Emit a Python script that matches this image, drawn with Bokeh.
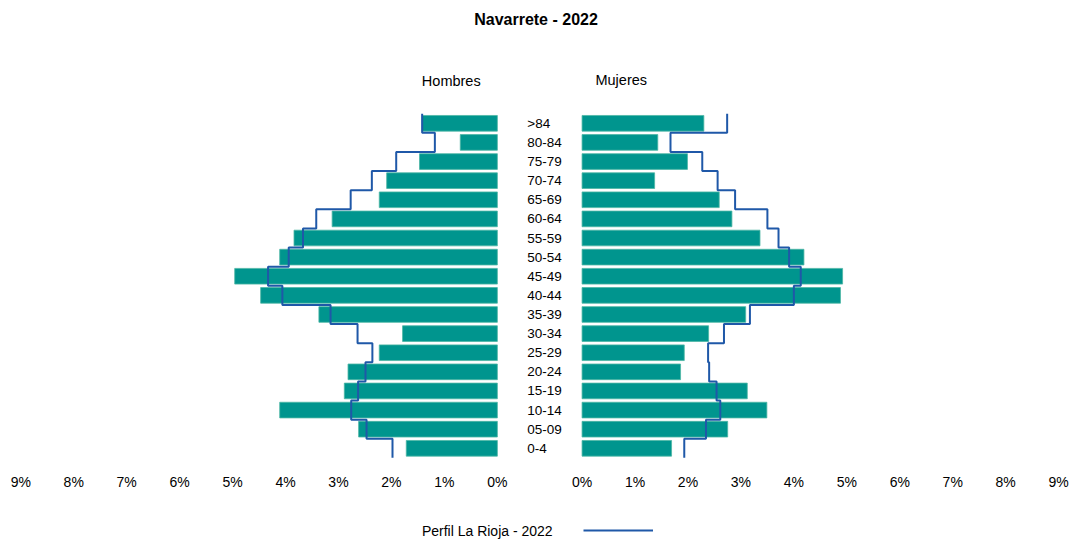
from bokeh.plotting import figure
from bokeh.models import (ColumnDataSource, FixedTicker, CustomJSTickFormatter, Label,
                          Legend, LegendItem, Range1d)
from bokeh.core.properties import value
from bokeh.embed import file_html
from bokeh.resources import INLINE

# ---------------- data ----------------
ages = ["0-4", "05-09", "10-14", "15-19", "20-24", "25-29", "30-34", "35-39", "40-44",
        "45-49", "50-54", "55-59", "60-64", "65-69", "70-74", "75-79", "80-84", ">84"]
hombres = [1.72, 2.62, 4.11, 2.89, 2.82, 2.23, 1.79, 3.37, 4.47,
           4.96, 4.11, 3.84, 3.12, 2.23, 2.09, 1.47, 0.70, 1.42]
mujeres = [1.69, 2.75, 3.49, 3.12, 1.86, 1.93, 2.39, 3.09, 4.88,
           4.92, 4.19, 3.36, 2.83, 2.59, 1.37, 1.99, 1.43, 2.30]
rioja_h = [1.98, 2.47, 2.76, 2.63, 2.49, 2.36, 2.64, 3.15, 4.06,
           4.33, 3.94, 3.67, 3.42, 2.77, 2.37, 1.91, 1.18, 1.42]
rioja_m = [1.93, 2.34, 2.61, 2.54, 2.40, 2.38, 2.68, 3.17, 4.00,
           4.13, 3.91, 3.71, 3.50, 2.89, 2.56, 2.27, 1.67, 2.74]
tick_pcts = [0, 1, 2, 3, 4, 5, 6, 7, 8, 9]
title_text = "Navarrete - 2022"
legend_text = "Perfil La Rioja - 2022"

# ---------------- layout constants ----------------
G = 0.8          # half gap between the two pyramids (in % units)
FONT = "Liberation Sans"
BAR = "#00958e"
LINE = "#1f58a8"

idx = list(range(len(ages)))
src = ColumnDataSource(dict(
    y=idx, age=ages,
    hl=[-(G + v) for v in hombres], hr=[-G] * len(idx),
    ml=[G] * len(idx), mr=[G + v for v in mujeres],
))

def step_path(vals, sign):
    xs, ys = [], []
    for i, v in enumerate(vals):
        x = sign * (G + v)
        xs += [x, x]
        ys += [i - 0.5, i + 0.5]
    return xs, ys

p = figure(width=1071, height=539, output_backend="svg", toolbar_location=None,
           x_range=Range1d(-10.183, 10.043), y_range=Range1d(-4.77, 21.75),
           y_axis_location=None, min_border_left=0, min_border_right=0,
           min_border_top=32, min_border_bottom=0)
p.outline_line_color = None
p.grid.visible = False
p.background_fill_color = "white"

p.title.text = title_text
p.title.align = "center"
p.title.text_font = FONT
p.title.text_font_size = "16px"
p.title.text_font_style = "bold"
p.title.text_color = "black"

p.hbar(y="y", left="hl", right="hr", height=0.82, source=src,
       fill_color=BAR, line_color="#4db6a4", line_width=0.8)
p.hbar(y="y", left="ml", right="mr", height=0.82, source=src,
       fill_color=BAR, line_color="#4db6a4", line_width=0.8)

xh, yh = step_path(rioja_h, -1)
xm, ym = step_path(rioja_m, 1)
lh = p.line(xh, yh, line_color=LINE, line_width=2)
lm = p.line(xm, ym, line_color=LINE, line_width=2)

p.text(x=-0.235, y="y", text="age", source=src, text_font=value(FONT),
       text_font_size="13.5px", text_align="left", text_baseline="middle",
       text_color="black")

ax = p.xaxis[0]
ax.fixed_location = -0.72
ax.ticker = FixedTicker(ticks=[-(G + t) for t in tick_pcts] + [G + t for t in tick_pcts])
ax.formatter = CustomJSTickFormatter(code="return Math.round(Math.abs(tick) - 0.8) + '%';")
ax.axis_line_color = None
ax.major_tick_line_color = None
ax.minor_tick_line_color = None
ax.major_label_text_font = FONT
ax.major_label_text_font_size = "14px"
ax.major_label_text_color = "black"
ax.major_label_standoff = 6

for txt, x, y in [("Hombres", -1.67, 19.23), ("Mujeres", 1.54, 19.29)]:
    p.add_layout(Label(x=x, y=y, text=txt, text_font=FONT, text_font_size="14.5px",
                       text_align="center", text_baseline="middle", text_color="black"))

p.add_layout(Label(x=-2.225, y=-4.30, text=legend_text, text_font=FONT,
                   text_font_size="14px", text_align="left", text_baseline="middle",
                   text_color="black"))

legend = Legend(items=[LegendItem(label="", renderers=[lh])], location=(583, 7),
                glyph_width=70, glyph_height=4, label_height=4, label_width=0,
                label_standoff=0, padding=0, margin=0, spacing=0,
                border_line_color=None, background_fill_alpha=0)
p.add_layout(legend)

open("out.html", "w").write(file_html(p, INLINE))
